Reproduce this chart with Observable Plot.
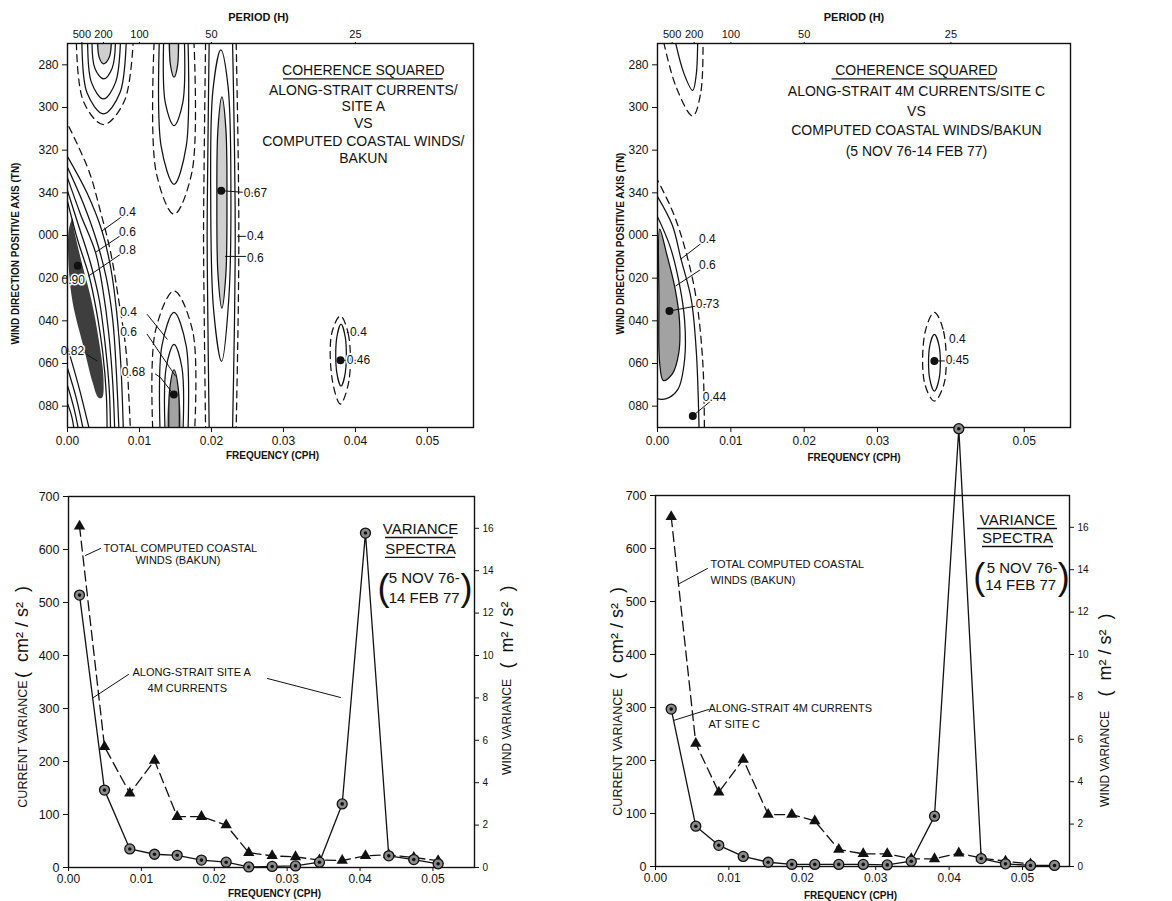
<!DOCTYPE html>
<html><head><meta charset="utf-8">
<script src="https://cdn.jsdelivr.net/npm/d3@7"></script>
<script src="https://cdn.jsdelivr.net/npm/@observablehq/plot@0.6"></script>
<style>
body{margin:0;background:#fff;}
#wrap{position:relative;width:1172px;height:901px;overflow:hidden;background:#fff;}
#wrap svg{position:absolute;}
</style></head><body><div id="wrap"></div>
<script>
const FONT = '"Liberation Sans", Arial, sans-serif';
const K = 40; // wind (m²/s²) drawn on the current (cm²/s²) scale

// ---------- ticks ----------
const freqTicks = [0, 0.01, 0.02, 0.03, 0.04, 0.05];
const freqTicksTR = [0, 0.01, 0.02, 0.03, 0.05];
const periodTicks = [500, 200, 100, 50, 25];
const angleTicks = [280, 300, 320, 340, 360, 380, 400, 420, 440];
const currentTicks = [0, 100, 200, 300, 400, 500, 600, 700];
const windTicks = [0, 2, 4, 6, 8, 10, 12, 14, 16];

// ---------- variance spectra, site A ----------
const blFreq = [0.00151,0.00494,0.00841,0.01180,0.01491,0.01824,0.02163,0.02473,0.02794,0.03114,0.03443,0.03755,0.04074,0.04394,0.04737,0.05071];
const blCurrent = [514,146,35,25,23,14,10,1,2,3,10,120,631,22,15,7];
const blWind = [16.1,5.7,3.5,5.05,2.4,2.4,2.0,0.7,0.55,0.5,0.35,0.33,0.55,0.6,0.47,0.32];

// ---------- variance spectra, site C ----------
const brFreq = [0.00214,0.00549,0.00862,0.01195,0.01535,0.01857,0.0217,0.02497,0.0283,0.03157,0.03484,0.03801,0.04132,0.04437,0.04768,0.05109,0.05436];
const brCurrent = [297,76,40,19,8,4,4,4,4,3,10,95,826,15,5,2,2];
const brWind = [16.5,5.8,3.5,5.05,2.45,2.45,2.15,0.8,0.6,0.6,0.36,0.36,0.63,0.4,0.25,0.12];

// ---------- coherence contours, site A (freq, direction) ----------
const tlShades = [
  {id:"sB", tone:"dark", pts:[[.0007,352],[.0009,357],[.0020,373],[.0033,390],[.0044,410],[.0050,427],[.0048,436],[.0043,436],[.0035,429],[.0023,413],[.0007,391],[.0001,370],[.0002,357]]},
  {id:"sA", tone:"light", pts:[[.0042,262],[.0044,276.5],[.0050,279.5],[.0058,276.5],[.0061,262]]},
  {id:"sC1", tone:"light", pts:[[.01417,262],[.0143,280],[.0148,285.8],[.0153,280],[.01537,262]]},
  {id:"sC8", tone:"mid", pts:[[.0141,458],[.0142,432],[.0148,423],[.0154,432],[.0155,458]]},
  {id:"sE", tone:"light", pts:[[.02145,295],[.0220,310],[.02215,344],[.0220,378],[.02145,394],[.0209,378],[.02075,344],[.0209,310]]}
];
const tlLines = [
  {id:"A1", kind:"solid", pts:[[.0042,264],[.0044,276.5],[.0050,279.5],[.0058,276.5],[.0061,264]]},
  {id:"A2", kind:"solid", pts:[[.0034,264],[.0038,281.6],[.0050,286.6],[.0062,281.6],[.0067,264]]},
  {id:"A3", kind:"solid", pts:[[.0028,264],[.0033,288],[.0050,296],[.0067,288],[.0074,264]]},
  {id:"A4", kind:"solid", pts:[[.0020,264],[.0027,293],[.0050,303],[.0073,293],[.0082,264]]},
  {id:"A5", kind:"dashed", pts:[[.0012,264],[.0022,297],[.0050,308],[.0079,297],[.0092,264]]},
  {id:"BD", kind:"dashed", pts:[[.0002,309],[.0030,330],[.0046,349],[.0060,368],[.0071,390],[.0081,413],[.0085,434],[.0088,456]]},
  {id:"B1", kind:"solid", pts:[[0,323],[.0027,340],[.0048,358],[.0060,375],[.0068,395],[.0074,420],[.0078,456]]},
  {id:"B2", kind:"solid", pts:[[0,328],[.0022,345],[.0040,362],[.0054,380],[.0063,400],[.0068,425],[.0072,456]]},
  {id:"B3", kind:"solid", pts:[[0,333],[.0018,350],[.0039,368],[.0049,385],[.0057,405],[.0063,430],[.0066,456]]},
  {id:"B4", kind:"solid", pts:[[0,339],[.0016,356],[.0032,373],[.0044,390],[.0052,410],[.0058,432],[.0060,456]]},
  {id:"B5", kind:"solid", pts:[[0,344],[.0014,362],[.0030,379],[.0040,395],[.0049,415],[.0054,435],[.0055,456]]},
  {id:"S0", kind:"solid", pts:[[-.0003,409],[.0015,430],[.0034,456]]},
  {id:"S1", kind:"solid", pts:[[-.0003,419],[.0012,436],[.0025,456]]},
  {id:"S2", kind:"solid", pts:[[-.0003,427],[.0009,441],[.0018,456]]},
  {id:"S3", kind:"solid", pts:[[-.0003,436],[.0006,445],[.0011,456]]},
  {id:"C1", kind:"solid", pts:[[.01417,264],[.0143,280],[.0148,285.8],[.0153,280],[.01537,264]]},
  {id:"C2", kind:"solid", pts:[[.0134,264],[.0136,298],[.0148,308.5],[.0160,298],[.0162,264]]},
  {id:"C3", kind:"solid", pts:[[.0128,264],[.0130,318],[.0148,336],[.0165,318],[.0167,264]]},
  {id:"C4", kind:"dashed", pts:[[.0121,264],[.0123,330],[.0148,350],[.0173,330],[.0175,264]]},
  {id:"C5", kind:"dashed", pts:[[.0119,456],[.0122,405],[.0148,386],[.0174,405],[.0176,456]]},
  {id:"C6", kind:"solid", pts:[[.0129,456],[.0131,412],[.0148,396],[.0165,412],[.0167,456]]},
  {id:"C7", kind:"solid", pts:[[.0136,456],[.0137,422],[.0148,411],[.0159,422],[.0160,456]]},
  {id:"C8", kind:"solid", pts:[[.0141,456],[.0142,432],[.0148,423],[.0154,432],[.0155,456]]},
  {id:"E1", kind:"solid", closed:true, pts:[[.02145,295],[.0220,310],[.02215,344],[.0220,378],[.02145,394],[.0209,378],[.02075,344],[.0209,310]]},
  {id:"E2", kind:"solid", closed:true, pts:[[.0213,273],[.0223,290],[.0227,340],[.0224,390],[.0214,419],[.0203,395],[.0199,345],[.0202,292]]},
  {id:"E3l", kind:"solid", pts:[[.0197,264],[.0195,320],[.0194,360],[.0195,400],[.0197,456]]},
  {id:"E3r", kind:"solid", pts:[[.0229,264],[.0232,320],[.0233,360],[.0232,400],[.0229,456]]},
  {id:"E4l", kind:"dashed", pts:[[.0192,264],[.0190,320],[.0189,360],[.0190,400],[.0192,456]]},
  {id:"E4r", kind:"dashed", pts:[[.0234,264],[.0237,320],[.0238,360],[.0237,400],[.0234,456]]},
  {id:"F1", kind:"solid", closed:true, pts:[[.0380,401.6],[.0386,408],[.0386,424],[.0380,430.6],[.0374,424],[.0374,408]]},
  {id:"F2", kind:"dashed", closed:true, pts:[[.0379,397.7],[.0390,406],[.0391,428],[.0379,439],[.0368,428],[.0367,406]]}
];
const tlPeaks = [[.00143,374.2],[.01477,434.5],[.02135,339],[.03792,418.5]];
const tlLabels = [
  {t:"0.4",f:.00833,a:349},{t:"0.6",f:.00833,a:358.4},{t:"0.8",f:.00833,a:366.9},
  {t:"0.90",f:.0008,a:381,c:1},{t:"0.82",f:.0007,a:414.3,c:1},
  {t:"0.4",f:.00847,a:396},{t:"0.6",f:.00847,a:405.4},{t:"0.68",f:.00917,a:424.1},
  {t:"0.67",f:.02611,a:340},{t:"0.4",f:.02611,a:360.3},{t:"0.6",f:.02611,a:370.6},
  {t:"0.4",f:.04042,a:405.4},{t:"0.46",f:.04042,a:418.5}
];
const tlLeaders = [
  [[.00482,357.8],[.00806,349.9]],[[.00389,367.9],[.00806,358.5]],[[.00296,378.9],[.00806,367.2]],
  [[.0021,414.5],[.0041,418.8]],
  [[.01107,397],[.01385,408.6]],[[.01107,406.3],[.015,425.9]],[[.01222,425],[.0129,426.5],[.01472,434.4]],
  [[.02135,339],[.02583,340.1]],[[.02365,360.4],[.02583,360.4]],[[.02194,369.8],[.02583,369.8]],
  [[.03885,405.5],[.04024,405.5]],[[.03792,418.5],[.04024,418.5]]
];
const tlTitle = ["COHERENCE SQUARED","ALONG-STRAIT CURRENTS/","SITE A","VS","COMPUTED COASTAL WINDS/","BAKUN"];

// ---------- coherence contours, site C ----------
const trShades = [
  {id:"sR", tone:"mid", pts:[[.0003,357],[.0012,368],[.0024,385],[.0030,400],[.0029,415],[.0020,425],[.0008,428],[.0003,420],[.0002,390]]}
];
const trLines = [
  {id:"RA1", kind:"solid", pts:[[.0021,264],[.0036,284],[.0048,292],[.0053,284],[.0055,264]]},
  {id:"RA2", kind:"dashed", pts:[[.0005,264],[.0025,290],[.0048,304],[.0059,293],[.0062,264]]},
  {id:"R3", kind:"solid", closed:true, pts:[[.0003,357],[.0012,368],[.0024,385],[.0030,400],[.0029,415],[.0020,425],[.0008,428],[.0003,420],[.0002,390]]},
  {id:"R2", kind:"solid", pts:[[-.0003,349],[.0017,365],[.0030,383],[.0037,400],[.0037,418],[.0028,432],[.0012,436.5],[-.0003,436.5]]},
  {id:"R1", kind:"solid", pts:[[-.0003,340],[.0020,355],[.0032,371],[.0046,390],[.0053,415],[.0057,456]]},
  {id:"RD", kind:"dashed", pts:[[-.0003,332],[.0021,349],[.0039,368],[.0053,390],[.0062,421],[.0064,456]]},
  {id:"RF1", kind:"solid", closed:true, pts:[[.03774,406.3],[.0384,412],[.0384,427],[.03774,432.9],[.0371,427],[.0371,412]]},
  {id:"RF2", kind:"dashed", closed:true, pts:[[.03774,396],[.0390,405],[.0391,429],[.03774,437.6],[.0364,429],[.0365,405]]}
];
const trPeaks = [[.00163,395.4],[.00481,444.6],[.03774,418.8]];
const trLabels = [
  {t:"0.4",f:.00681,a:361.7},{t:"0.6",f:.00681,a:373.7},{t:"0.73",f:.00681,a:392.2},
  {t:"0.44",f:.00777,a:435.9},{t:"0.4",f:.04087,a:408.6},{t:"0.45",f:.04087,a:418.5}
];
const trLeaders = [
  [[.0032,371],[.00663,361.9]],[[.0025,383.6],[.00663,374.3]],[[.00163,395.4],[.00663,392.2]],
  [[.00481,444.6],[.00753,436.8]],[[.03774,418.8],[.0406,418.8]]
];
const trTitle = ["COHERENCE SQUARED","ALONG-STRAIT 4M CURRENTS/SITE C","VS","COMPUTED COASTAL WINDS/BAKUN","(5 NOV 76-14 FEB 77)"];

// ---------- spectra annotations ----------
const blNotes = [
  {t:"TOTAL COMPUTED COASTAL",f:.0048,v:601.9},{t:"WINDS (BAKUN)",f:.00919,v:579.2},
  {t:"ALONG-STRAIT SITE A",f:.00878,v:367.9},{t:"4M CURRENTS",f:.01084,v:337.7}
];
const blLeaders = [[[.00439,601.9],[.00233,588.7]],[[.00823,364.2],[.00343,320.8]],[[.0273,356.6],[.03731,320.8]]];
const brNotes = [
  {t:"TOTAL COMPUTED COASTAL",f:.00749,v:569.8},{t:"WINDS (BAKUN)",f:.00749,v:539.6},
  {t:"ALONG-STRAIT 4M CURRENTS",f:.00722,v:298.1},{t:"AT SITE C",f:.00722,v:267.9}
];
const brLeaders = [[[.00708,562.3],[.00327,534]],[[.00722,296.2],[.00245,275.5]]];
const specTitle = ["VARIANCE","SPECTRA","5 NOV 76-","14 FEB 77"];

// ---------- helpers ----------
const wrap = document.getElementById("wrap");
function place(svg, left, top) { svg.style.left = left + "px"; svg.style.top = top + "px"; wrap.appendChild(svg); }
const rows = list => list.flatMap(c => c.pts.map(([f, a]) => ({id: c.id, f, a})));
const legRows = list => list.flatMap((l, i) => l.map(([f, a]) => ({id: i, f, a})));
const fmtDeg = d => String(d % 360).padStart(3, "0");
const fmtF = d3.format(".2f");
const style = {background: "transparent", overflow: "visible", fontFamily: FONT, color: "#111"};
const vlabel = (txt, anchor, dx, dy, fontSize, fontWeight = "normal") =>
  Plot.text([txt], {frameAnchor: anchor, text: d => d, rotate: -90, dx, dy, fontSize, fontWeight, textAnchor: "middle", lineAnchor: "middle", fill: "#111"});
const hlabel = (txt, anchor, dx, dy, fontSize, fontWeight = "bold") =>
  Plot.text([txt], {frameAnchor: anchor, text: d => d, dx, dy, fontSize, fontWeight, textAnchor: "middle", lineAnchor: "middle", fill: "#111"});

function contourMarks(lines, shades) {
  const m = [];
  const tones = {dark: ["#1c1c1c", 0.85], mid: ["#555", 0.55], light: ["#888", 0.4]};
  for (const [tone, [col, op]] of Object.entries(tones)) {
    const s = shades.filter(d => d.tone === tone);
    if (s.length) m.push(Plot.line(rows(s), {x: "f", y: "a", z: "id", curve: "catmull-rom-closed", fill: col, fillOpacity: op, stroke: "none", clip: true}));
  }
  for (const kind of ["solid", "dashed"]) for (const closed of [false, true]) {
    const s = lines.filter(d => d.kind === kind && !!d.closed === closed);
    if (!s.length) continue;
    const opts = {x: "f", y: "a", z: "id", curve: closed ? "catmull-rom-closed" : "catmull-rom", stroke: "#111", strokeWidth: 1.25, clip: true};
    if (kind === "dashed") opts.strokeDasharray = "7,5";
    m.push(Plot.line(rows(s), opts));
  }
  return m;
}

function coherencePlot(cfg) {
  return Plot.plot({
    width: cfg.width, height: 465,
    marginLeft: 67, marginRight: cfg.mr, marginTop: 43, marginBottom: 38,
    x: {domain: [0, cfg.xmax], label: null},
    y: {domain: [270, 450], reverse: true, label: null},
    style,
    marks: [
      ...contourMarks(cfg.lines, cfg.shades),
      Plot.line(legRows(cfg.leaders), {x: "f", y: "a", z: "id", stroke: "#111", strokeWidth: 1}),
      Plot.dot(cfg.peaks, {x: d => d[0], y: d => d[1], r: 4, fill: "#111"}),
      Plot.text(cfg.labels, {x: "f", y: "a", text: "t", textAnchor: d => d.c ? "middle" : "start", fontSize: 12, fill: "#111", stroke: "white", strokeWidth: 3}),
      Plot.text(cfg.title, {x: cfg.tx, y: (d, i) => cfg.ty[i], text: d => d, fontSize: 14, fill: "#111"}),
      Plot.ruleY([cfg.ul], {y: d => d[0], x1: d => d[1], x2: d => d[2], stroke: "#111", strokeWidth: 1.3}),
      Plot.frame({stroke: "#111", strokeWidth: 1.4}),
      Plot.axisY(angleTicks, {tickFormat: fmtDeg, tickSize: 5, tickPadding: 4, fontSize: 12, label: null}),
      Plot.axisX(cfg.xt, {tickFormat: fmtF, tickSize: 5, tickPadding: 4, fontSize: 12, label: null}),
      Plot.axisX(periodTicks.map(p => 1 / p), {anchor: "top", tickFormat: f => String(Math.round(1 / f)), tickSize: 2, tickPadding: 4, fontSize: 11, label: null}),
      hlabel("PERIOD (H)", "top", cfg.pdx, -26, 11),
      hlabel("FREQUENCY (CPH)", "bottom", cfg.fdx, cfg.fdy, 10),
      vlabel("WIND DIRECTION POSITIVE AXIS (TN)", "left", cfg.wdx, cfg.wdy, 10, "bold")
    ]
  });
}

function spectraPlot(cfg) {
  const cur = cfg.freq.map((f, i) => ({f, v: cfg.current[i]}));
  const wind = cfg.wind.map((w, i) => ({f: cfg.freq[i], v: w * K}));
  return Plot.plot({
    width: cfg.width, height: cfg.height,
    marginLeft: cfg.ml, marginRight: cfg.mr, marginTop: cfg.mt, marginBottom: cfg.mb,
    x: {domain: [0, cfg.xmax], label: null},
    y: {domain: [0, 700], label: null},
    style,
    marks: [
      Plot.frame({stroke: "#111", strokeWidth: 1.4}),
      Plot.line(wind, {x: "f", y: "v", stroke: "#111", strokeWidth: 1.3, strokeDasharray: "10,5"}),
      Plot.line(cur, {x: "f", y: "v", stroke: "#111", strokeWidth: 1.3}),
      Plot.dot(wind, {x: "f", y: "v", symbol: "triangle", r: 4.2, fill: "#111"}),
      Plot.dot(cur, {x: "f", y: "v", r: 5, fill: "#8a8a8a", stroke: "#111", strokeWidth: 1.3}),
      Plot.dot(cur, {x: "f", y: "v", r: 1.8, fill: "#111"}),
      Plot.line(legRows(cfg.leaders), {x: "f", y: "a", z: "id", stroke: "#111", strokeWidth: 1}),
      Plot.text(cfg.notes, {x: "f", y: "v", text: "t", textAnchor: "start", fontSize: 11, fill: "#111"}),
      Plot.text(specTitle, {x: (d, i) => cfg.tx[i], y: (d, i) => cfg.ty[i], text: d => d, fontSize: 15, fill: "#111"}),
      Plot.text(["(", ")"], {x: (d, i) => cfg.px[i], y: cfg.py, text: d => d, fontSize: 36, fill: "#111"}),
      Plot.ruleY(cfg.ul, {y: d => d[0], x1: d => d[1], x2: d => d[2], stroke: "#111", strokeWidth: 1.3}),
      Plot.axisY(currentTicks, {tickSize: 5, tickPadding: 4, fontSize: 12.5, label: null}),
      Plot.axisY(windTicks.map(w => w * K), {anchor: "right", tickFormat: v => String(v / K), tickSize: 4, tickPadding: 4, fontSize: 10, label: null}),
      Plot.axisX(freqTicks, {tickFormat: fmtF, tickSize: 4, tickPadding: 3, fontSize: 12, label: null}),
      hlabel("FREQUENCY (CPH)", "bottom", cfg.fdx, cfg.fdy, 10),
      vlabel("CURRENT VARIANCE", "left", cfg.cdx, cfg.cdy1, 12.5),
      vlabel("(  cm² / s²  )", "left", cfg.cdx, cfg.cdy2, 18),
      vlabel("WIND VARIANCE", "right", cfg.wdx, cfg.wdy1, 12),
      vlabel("(  m² / s²  )", "right", cfg.wdx, cfg.wdy2, 18)
    ]
  });
}

// ---------- panels ----------
place(coherencePlot({
  width: 590, mr: 117, xmax: 0.0564, lines: tlLines, shades: tlShades, peaks: tlPeaks,
  labels: tlLabels, leaders: tlLeaders, title: tlTitle, tx: 0.0411,
  ty: [282.8, 292.2, 299.7, 307.7, 316.1, 324.1], ul: [286.6, 0.030, 0.0522],
  xt: freqTicks, pdx: -12, fdx: 2, fdy: 28, wdx: -52, wdy: 18
}), 0, 0);

place(coherencePlot({
  width: 582, mr: 102, xmax: 0.0563, lines: trLines, shades: trShades, peaks: trPeaks,
  labels: trLabels, leaders: trLeaders, title: trTitle, tx: 0.0353,
  ty: [282.8, 292.7, 302.1, 310.6, 320.5], ul: [286.6, 0.0238, 0.0462],
  xt: freqTicksTR, pdx: -10, fdx: -10, fdy: 30, wdx: -37, wdy: 8
}), 590, 0);

place(spectraPlot({
  width: 590, height: 451, ml: 68, mr: 116, mt: 46, mb: 34, xmax: 0.0557,
  freq: blFreq, current: blCurrent, wind: blWind, notes: blNotes, leaders: blLeaders,
  tx: [0.0483, 0.0483, 0.0488, 0.0488], ty: [637.7, 600, 545, 509],
  px: [0.0432, 0.0546], py: 526, ul: [[622.6, 0.0435, 0.0528], [585, 0.0435, 0.0531]],
  fdx: 3, fdy: 26, cdx: -46, cdy1: 62, cdy2: -50, wdx: 33, wdy1: 45, wdy2: -55
}), 0, 450);

place(spectraPlot({
  width: 582, height: 521, ml: 65, mr: 103, mt: 115, mb: 35, xmax: 0.0564,
  freq: brFreq, current: brCurrent, wind: brWind, notes: brNotes, leaders: brLeaders,
  tx: [0.04932, 0.04932, 0.04995, 0.04975], ty: [652.8, 618.9, 562.3, 530.2],
  px: [0.04410, 0.05560], py: 545.3, ul: [[637.7, 0.04387, 0.05477], [603.8, 0.04455, 0.05422]],
  fdx: -12, fdy: 29, cdx: -38, cdy1: 71, cdy2: -48, wdx: 36, wdy1: 78, wdy2: -26
}), 590, 380);
</script></body></html>
